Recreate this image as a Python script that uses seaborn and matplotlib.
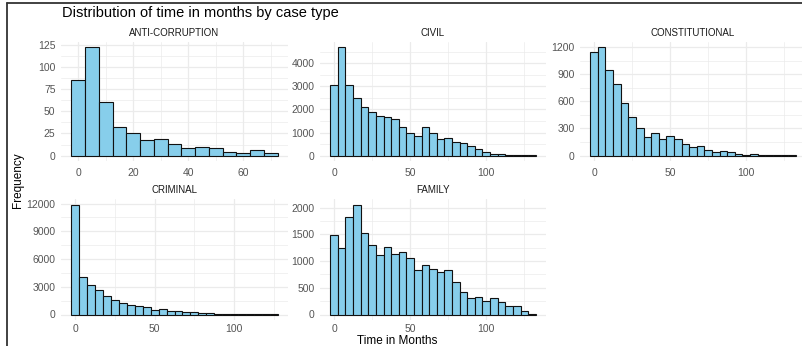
import numpy as np
import pandas as pd
import matplotlib.pyplot as plt
from matplotlib.lines import Line2D
from matplotlib.ticker import MultipleLocator
import seaborn as sns

# counts per 5-month bin (bins centred on 0, 5, 10, ...)
case_types = ["ANTI-CORRUPTION", "CIVIL", "CONSTITUTIONAL", "CRIMINAL", "FAMILY"]
anti_corruption = [85, 122, 61, 32, 25, 18, 19, 13, 8, 10, 9, 4, 3, 6, 3]
civil = [3060, 4690, 3060, 2510, 2085, 1870, 1700, 1690, 1570, 1230, 980, 850, 1230,
         1000, 720, 765, 595, 550, 425, 285, 155, 85, 85, 40, 40, 15, 10]
constitutional = [1142, 1197, 946, 794, 587, 431, 305, 207, 250, 189, 218, 181, 130,
                  94, 101, 65, 43, 47, 36, 22, 11, 22, 11, 4, 3, 2, 2]
criminal = [11900, 4025, 3160, 2660, 2010, 1580, 1260, 1040, 935, 790, 500, 610, 430,
            360, 290, 250, 180, 110, 100, 80, 70, 40, 30, 20, 15, 10]
family = [1484, 1242, 1820, 2062, 1528, 1298, 1124, 1261, 1130, 1168, 1056, 839, 925,
          845, 801, 839, 615, 422, 311, 329, 261, 317, 236, 168, 168, 68, 5]

y_steps = [25, 1000, 300, 3000, 500]
x_steps = [20, 50, 50, 50, 50]
bin_width = 5

sns.set_theme(style="whitegrid")
plt.rcParams['font.family'] = ['Liberation Sans', 'DejaVu Sans']

fig = plt.figure(figsize=(8.02, 3.46), dpi=100)
W, H = 802, 346
# panel boxes in pixels: left, top, width, height
boxes = [(61, 42, 227, 119), (320, 42, 226, 119), (580, 42, 226, 119),
         (61, 199, 227, 121), (320, 199, 226, 121)]
x_pads = [5, 5, 5, 3, 3]

all_counts = [anti_corruption, civil, constitutional, criminal, family]
for name, counts, box, ys, xs, xp in zip(case_types, all_counts, boxes, y_steps,
                                         x_steps, x_pads):
    l, t, w, h = box
    ax = fig.add_axes([l / W, 1 - (t + h) / H, w / W, h / H])
    df = pd.DataFrame({"month": np.arange(len(counts)) * bin_width, "n": counts})
    lo = -bin_width / 2
    hi = lo + len(counts) * bin_width
    sns.histplot(data=df, x="month", weights="n", binwidth=bin_width, binrange=(lo, hi),
                 ax=ax, color="#87CEEB", edgecolor="#111111", linewidth=0.8, alpha=1)
    xr = hi - lo
    ax.set_xlim(lo - 0.05 * xr, hi + 0.05 * xr)
    ymax = max(counts)
    ax.set_ylim(-0.05 * ymax, 1.05 * ymax)
    ax.xaxis.set_major_locator(MultipleLocator(xs))
    ax.xaxis.set_minor_locator(MultipleLocator(xs / 2))
    ax.yaxis.set_major_locator(MultipleLocator(ys))
    ax.yaxis.set_minor_locator(MultipleLocator(ys / 2))
    ax.set_facecolor("white")
    ax.grid(True, which="major", color="#EBEBEB", linewidth=0.9)
    ax.grid(True, which="minor", color="#EBEBEB", linewidth=0.5)
    ax.set_axisbelow(True)
    for s in ax.spines.values():
        s.set_visible(False)
    ax.tick_params(which="both", length=0, labelsize=7.5, colors="#555555")
    ax.tick_params(axis="x", pad=xp)
    ax.tick_params(axis="y", pad=4)
    ax.set_xlabel("")
    ax.set_ylabel("")
    ax.set_title(name, fontsize=7, color="#1A1A1A", pad=4)

fig.text(62 / W, 1 - 13 / H, "Distribution of time in months by case type",
         fontsize=10.5, ha="left", va="center", color="black")
fig.text(18 / W, 1 - 180 / H, "Frequency", rotation=90, fontsize=8.5,
         ha="center", va="center", color="black")
fig.text(397 / W, 1 - 341 / H, "Time in Months", fontsize=8.5,
         ha="center", va="center", color="black")

# partial frame at top and left
fig.add_artist(Line2D([7 / W, 1], [1 - 3 / H, 1 - 3 / H], color="#333333", linewidth=1.3))
fig.add_artist(Line2D([7 / W, 7 / W], [0, 1 - 3 / H], color="#333333", linewidth=1.3))

fig.savefig("out.png", dpi=100)
